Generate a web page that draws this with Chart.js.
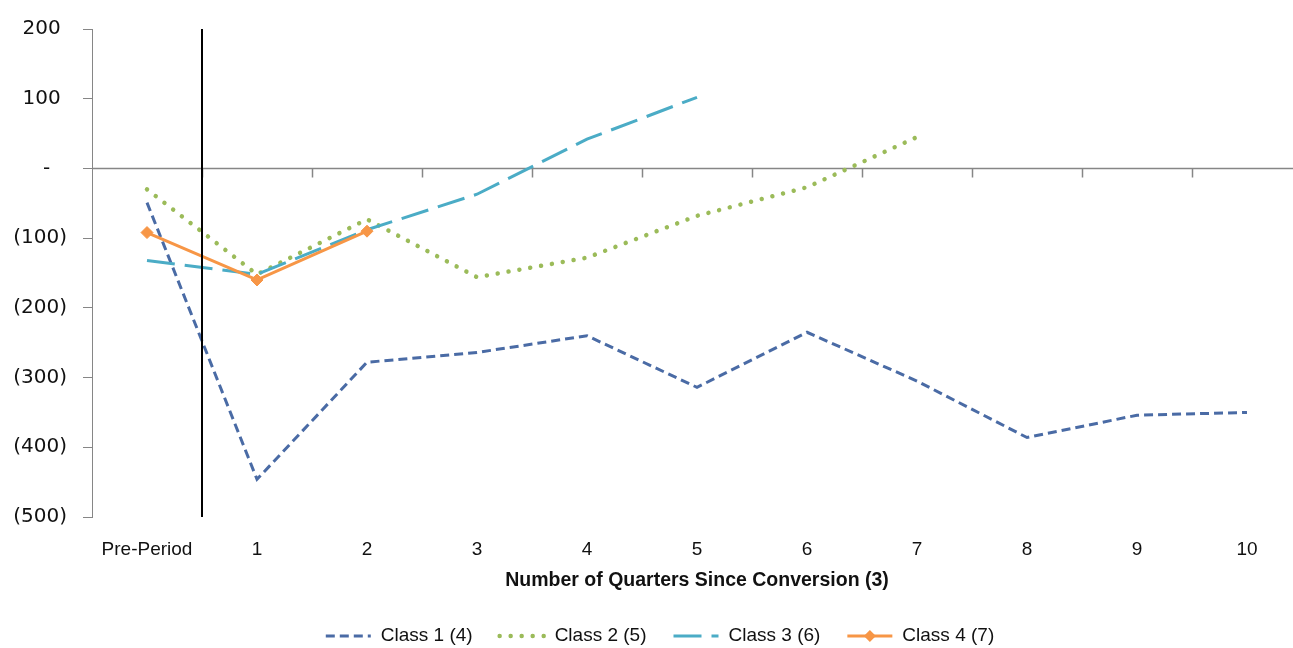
<!DOCTYPE html>
<html>
<head>
<meta charset="utf-8">
<script src="https://cdn.jsdelivr.net/npm/chart.js@4.4.1/dist/chart.umd.min.js"></script>
<style>
  html, body { margin: 0; padding: 0; overflow: hidden; background: #ffffff; }
  #wrap { width: 1312px; height: 648px; }
</style>
</head>
<body>
<div id="wrap"><canvas id="chart" width="1312" height="648"></canvas></div>
<script>
// Quarters since conversion
const categories = ['Pre-Period', '1', '2', '3', '4', '5', '6', '7', '8', '9', '10'];

// Series values per class
const class1 = [-49, -446, -278, -264, -240, -314, -235, -305, -386, -354, -350];
const class2 = [-30, -152, -73, -156, -128, -68, -27, 45, null, null, null];
const class3 = [-132, -152, -88, -37, 42, 102, null, null, null, null, null];
const class4 = [-92, -160, -90, null, null, null, null, null, null, null, null];

const seriesLabels = ['Class 1 (4)', 'Class 2 (5)', 'Class 3 (6)', 'Class 4 (7)'];
const yTickValues = [200, 100, 0, -100, -200, -300, -400, -500];
const xTitle = 'Number of Quarters Since Conversion (3)';

// Accounting-style number format: (n) for negatives, "-" for zero
function accounting(v) {
  if (v === 0) return '-\u2007\u2009';
  if (v < 0) return '(' + Math.abs(v) + ')';
  return v + ' ';
}

const TEXT = '#111111';
const AXIS = '#868686';

// Horizontal zero line with boundary tick marks, plus the divider after the pre-period
const axisLines = {
  id: 'axisLines',
  beforeDatasetsDraw(chart) {
    const { ctx, chartArea: a, scales: { x, y } } = chart;
    const y0 = Math.round(y.getPixelForValue(0)) + 0.5;
    ctx.save();
    ctx.strokeStyle = AXIS;
    ctx.lineWidth = 1.5;
    ctx.beginPath();
    ctx.moveTo(a.left, y0);
    ctx.lineTo(a.right, y0);
    for (let i = 1; i < categories.length; i++) {
      const bx = Math.round((x.getPixelForValue(i - 1) + x.getPixelForValue(i)) / 2) + 0.5;
      ctx.moveTo(bx, y0);
      ctx.lineTo(bx, y0 + 9);
    }
    ctx.stroke();
    ctx.restore();
  },
  afterDatasetsDraw(chart) {
    const { ctx, chartArea: a, scales: { x } } = chart;
    const bx = Math.round((x.getPixelForValue(0) + x.getPixelForValue(1)) / 2);
    ctx.save();
    ctx.strokeStyle = '#000000';
    ctx.lineWidth = 2;
    ctx.beginPath();
    ctx.moveTo(bx, a.top);
    ctx.lineTo(bx, a.bottom);
    ctx.stroke();
    ctx.restore();
  }
};

// Single-row legend with line samples that follow each dataset's stroke style
const legendRow = {
  id: 'legendRow',
  afterDraw(chart) {
    const ctx = chart.ctx;
    const sets = chart.data.datasets;
    const sample = 45, gapText = 10, gapItem = 27, yc = 636;
    ctx.save();
    ctx.font = '19px "Liberation Sans", Arial, sans-serif';
    let total = 0;
    sets.forEach((d, i) => {
      total += sample + gapText + ctx.measureText(d.label).width + (i < sets.length - 1 ? gapItem : 0);
    });
    let x = 660 - total / 2;
    sets.forEach((d) => {
      ctx.save();
      ctx.strokeStyle = d.borderColor;
      ctx.lineWidth = d.borderWidth;
      ctx.lineCap = d.borderCapStyle || 'butt';
      ctx.setLineDash(d.borderDash || []);
      ctx.beginPath();
      ctx.moveTo(x, yc);
      ctx.lineTo(x + sample, yc);
      ctx.stroke();
      if (d.pointRadius > 0) {
        const cx = x + sample / 2, r = d.pointRadius;
        ctx.setLineDash([]);
        ctx.fillStyle = d.pointBackgroundColor;
        ctx.beginPath();
        ctx.moveTo(cx, yc - r);
        ctx.lineTo(cx + r, yc);
        ctx.lineTo(cx, yc + r);
        ctx.lineTo(cx - r, yc);
        ctx.closePath();
        ctx.fill();
      }
      ctx.restore();
      ctx.fillStyle = TEXT;
      ctx.textAlign = 'left';
      ctx.textBaseline = 'middle';
      ctx.fillText(d.label, x + sample + gapText, yc);
      x += sample + gapText + ctx.measureText(d.label).width + gapItem;
    });
    ctx.restore();
  }
};

const lineBase = { tension: 0, pointRadius: 0, pointHoverRadius: 0, fill: false, spanGaps: false };

new Chart(document.getElementById('chart'), {
  type: 'line',
  data: {
    labels: categories,
    datasets: [
      Object.assign({}, lineBase, {
        label: seriesLabels[0], data: class1, order: 3,
        borderColor: '#4A6BA5', borderWidth: 3, borderDash: [9, 5]
      }),
      Object.assign({}, lineBase, {
        label: seriesLabels[1], data: class2, order: 2,
        borderColor: '#9BBB59', borderWidth: 4.5, borderDash: [0.01, 11], borderCapStyle: 'round'
      }),
      Object.assign({}, lineBase, {
        label: seriesLabels[2], data: class3, order: 1,
        borderColor: '#4BACC6', borderWidth: 3, borderDash: [28, 10]
      }),
      Object.assign({}, lineBase, {
        label: seriesLabels[3], data: class4, order: 0,
        borderColor: '#F79646', borderWidth: 3,
        pointStyle: 'rectRot', pointRadius: 6, pointHoverRadius: 6,
        pointBackgroundColor: '#F79646', pointBorderColor: '#F79646', pointBorderWidth: 1
      })
    ]
  },
  options: {
    responsive: false,
    animation: false,
    devicePixelRatio: 1,
    layout: { padding: { top: 29, right: 10, bottom: 51, left: 0 } },
    plugins: { legend: { display: false }, tooltip: { enabled: false } },
    scales: {
      x: {
        type: 'category',
        offset: true,
        grid: { display: false, drawTicks: false },
        border: { display: false },
        ticks: {
          font: { family: '"Liberation Sans", Arial, sans-serif', size: 19 },
          color: TEXT, padding: 21, maxRotation: 0, autoSkip: false
        },
        title: {
          display: true, text: xTitle, color: TEXT,
          font: { family: '"Liberation Sans", Arial, sans-serif', size: 19.5, weight: 'bold' },
          padding: { top: 0, bottom: 5 }
        },
        afterFit(scale) { scale.height = 80; }
      },
      y: {
        min: -500, max: 200,
        afterBuildTicks(scale) { scale.ticks = yTickValues.map(v => ({ value: v })); },
        ticks: {
          callback: accounting,
          font: { family: '"DejaVu Sans", Verdana, sans-serif', size: 20 },
          color: TEXT, padding: 16
        },
        grid: { drawOnChartArea: false, drawTicks: true, tickLength: 9, color: AXIS },
        border: { display: true, color: AXIS, width: 1 },
        afterFit(scale) { scale.width = 92; }
      }
    }
  },
  plugins: [axisLines, legendRow]
});
</script>
</body>
</html>
